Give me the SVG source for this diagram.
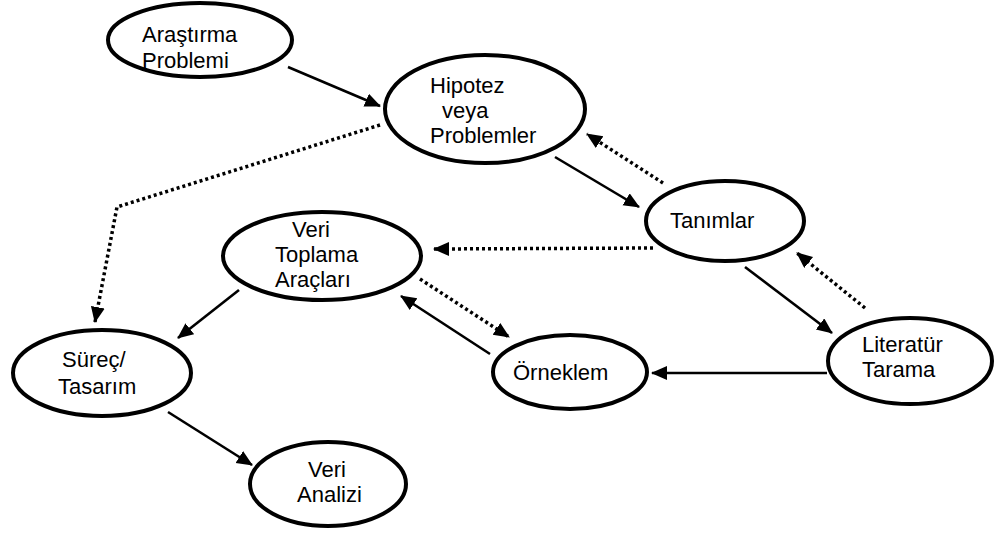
<svg xmlns="http://www.w3.org/2000/svg" width="1001" height="533" viewBox="0 0 1001 533">
<style>
.node ellipse{fill:#fff;stroke:#000;stroke-width:4}
.node text{font-family:"Liberation Sans",Arial,sans-serif;font-size:22px;fill:#000}
.solid{stroke:#000;stroke-width:2.6;fill:none;marker-end:url(#ah)}
.dot{stroke:#000;stroke-width:3.5;fill:none;stroke-dasharray:3 3;marker-end:url(#ah)}
</style>
<defs>
<marker id="ah" markerUnits="userSpaceOnUse" markerWidth="18" markerHeight="16" refX="15" refY="7" orient="auto">
<path d="M0,0 L16,7 L0,14 Z" fill="#000"/>
</marker>
</defs>
<rect width="1001" height="533" fill="#fff"/>
<g id="connectors">
<line class="solid" x1="288" y1="67" x2="380" y2="106"/>
<line class="solid" x1="555" y1="157" x2="639" y2="207"/>
<line class="dot" x1="663" y1="183" x2="587" y2="134"/>
<line class="dot" x1="653" y1="248" x2="434" y2="249"/>
<line class="solid" x1="745" y1="267" x2="832" y2="333"/>
<line class="dot" x1="865" y1="308" x2="797" y2="253"/>
<line class="solid" x1="827" y1="373" x2="652" y2="373"/>
<line class="solid" x1="490" y1="354" x2="401" y2="296"/>
<line class="dot" x1="420" y1="279" x2="509" y2="337"/>
<polyline class="dot" points="380,125 117,207 95,322"/>
<line class="solid" x1="239" y1="290" x2="178" y2="338"/>
<line class="solid" x1="168" y1="412" x2="252" y2="465"/>
</g>
<g id="arastirma" class="node">
<ellipse cx="200" cy="40" rx="92" ry="37"/>
<text x="142" y="42">Araştırma</text>
<text x="142" y="68">Problemi</text>
</g>
<g id="hipotez" class="node">
<ellipse cx="485" cy="109" rx="100" ry="54"/>
<text x="430" y="93">Hipotez</text>
<text x="442" y="118">veya</text>
<text x="430" y="143">Problemler</text>
</g>
<g id="tanimlar" class="node">
<ellipse cx="725" cy="221" rx="79" ry="40"/>
<text x="670" y="228">Tanımlar</text>
</g>
<g id="literatur" class="node">
<ellipse cx="910" cy="361" rx="82" ry="43"/>
<text x="862" y="352">Literatür</text>
<text x="862" y="377">Tarama</text>
</g>
<g id="orneklem" class="node">
<ellipse cx="570" cy="372" rx="77" ry="37"/>
<text x="513" y="380">Örneklem</text>
</g>
<g id="veritoplama" class="node">
<ellipse cx="322" cy="256" rx="99" ry="44"/>
<text x="292" y="237">Veri</text>
<text x="275" y="262">Toplama</text>
<text x="275" y="287">Araçları</text>
</g>
<g id="surec" class="node">
<ellipse cx="102" cy="373" rx="89" ry="43"/>
<text x="62" y="367">Süreç/</text>
<text x="58" y="394">Tasarım</text>
</g>
<g id="verianalizi" class="node">
<ellipse cx="328" cy="484" rx="78" ry="42"/>
<text x="308" y="477">Veri</text>
<text x="297" y="502">Analizi</text>
</g>
</svg>
